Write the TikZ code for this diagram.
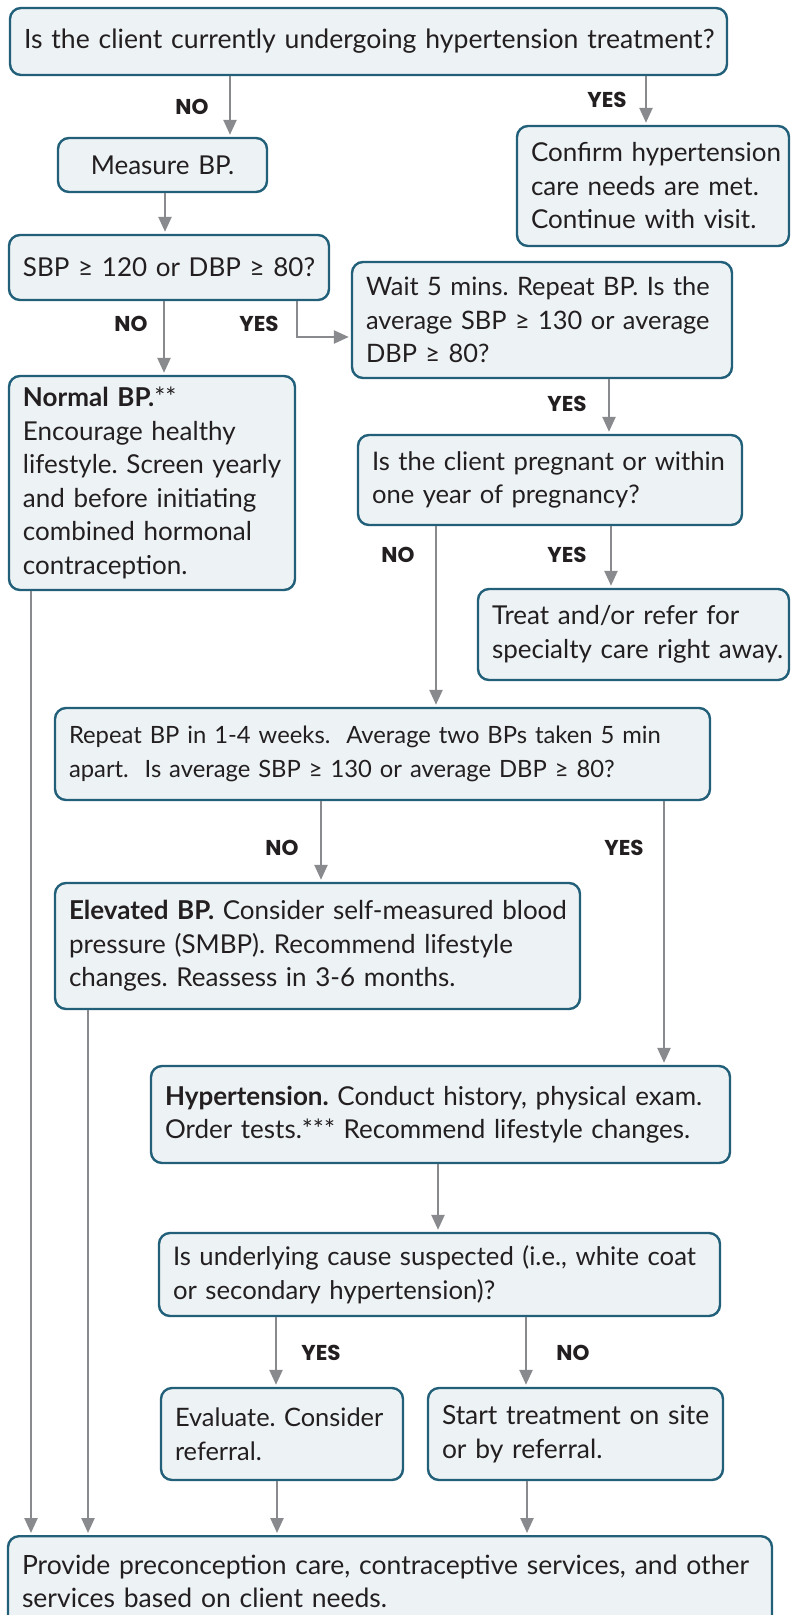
\documentclass[tikz,border=0pt]{standalone}
\usepackage{fontspec}
\setmainfont{Lato}
\newfontfamily\lblfont{Poppins}
\usetikzlibrary{arrows.meta}
\frenchspacing
\definecolor{bordercol}{HTML}{22607A}
\definecolor{fillcol}{HTML}{EDF2F5}
\definecolor{arrcol}{HTML}{898A8D}
\definecolor{txtcol}{HTML}{231F20}
\newcommand\lnb[1]{\mbox{#1}}
\tikzset{
  box/.style={draw=bordercol, fill=fillcol, line width=2.4pt, rounded corners=11pt,
    inner xsep=14pt, inner ysep=0pt, align=left, text=txtcol,
    font=\fontsize{26}{33.5}\selectfont},
  fs/.style={font=\fontsize{#1}{33.5}\selectfont},
  arr/.style={draw=arrcol, line width=2.4pt, shorten >=2pt,
    -{Triangle[width=13pt,length=15pt]}},
  lbl/.style={text=txtcol, font=\lblfont\bfseries\fontsize{21.5}{23}\selectfont, inner sep=0pt}
}
\begin{document}
\begin{tikzpicture}[x=1pt,y=-1pt]
\useasboundingbox (0,0) rectangle (791,1615);
% boxes
\node[box, fs=26.6, text width=689pt, minimum height=67pt, align=center] (top) at (368.5,41.5)
  {\lnb{Is the client currently undergoing hypertension treatment?}};
\node[box, text width=181pt, minimum height=54pt, align=center] (measure) at (162.5,165)
  {Measure BP.};
\node[box, text width=244pt, minimum height=120pt] (confirm) at (653,186)
  {\lnb{Confirm hypertension}\\\lnb{care needs are met.}\\\lnb{Continue with visit.}};
\node[box, text width=292pt, minimum height=65pt] (sbp) at (169,267.5)
  {\lnb{SBP ≥ 120 or DBP ≥ 80?}};
\node[box, fs=25.4, text width=352pt, minimum height=116pt] (wait) at (542,320)
  {\lnb{Wait 5 mins. Repeat BP. Is the}\\\lnb{average SBP ≥ 130 or average}\\\lnb{DBP ≥ 80?}};
\node[box, text width=258pt, minimum height=214pt] (normal) at (152,483)
  {\lnb{\textbf{Normal BP.}**}\\\lnb{Encourage healthy}\\\lnb{lifestyle. Screen yearly}\\\lnb{and before initiating}\\\lnb{combined hormonal}\\\lnb{contraception.}};
\node[box, fs=25.6, text width=356pt, minimum height=90pt] (preg) at (550,480)
  {\lnb{Is the client pregnant or within}\\\lnb{one year of pregnancy?}};
\node[box, text width=283pt, minimum height=91pt] (treat) at (633.5,634.5)
  {\lnb{Treat and/or refer for}\\\lnb{specialty care right away.}};
\node[box, fs=23.8, text width=627pt, minimum height=92pt] (repeat) at (382.5,754)
  {\lnb{Repeat BP in 1-4 weeks.\ \ Average two BPs taken 5 min}\\\lnb{apart.\ \ Is average SBP ≥ 130 or average DBP ≥ 80?}};
\node[box, text width=497pt, minimum height=126pt] (elev) at (317.5,946)
  {\lnb{\textbf{Elevated BP.} Consider self-measured blood}\\\lnb{pressure (SMBP). Recommend lifestyle}\\\lnb{changes. Reassess in 3-6 months.}};
\node[box, text width=551pt, minimum height=97pt] (hyper) at (440.5,1114.5)
  {\lnb{\textbf{Hypertension.} Conduct history, physical exam.}\\\lnb{Order tests.*** Recommend lifestyle changes.}};
\node[box, fs=25.7, text width=533pt, minimum height=83pt] (cause) at (439.5,1274.5)
  {\lnb{Is underlying cause suspected (i.e., white coat}\\\lnb{or secondary hypertension)?}};
\node[box, fs=25.4, text width=214pt, minimum height=92pt] (eval) at (282,1434)
  {\lnb{Evaluate. Consider}\\\lnb{referral.}};
\node[box, fs=26.4, text width=267pt, minimum height=92pt] (start) at (575.5,1434)
  {\lnb{Start treatment on site}\\\lnb{or by referral.}};
\node[box, fs=26.5, text width=736pt, minimum height=90pt, anchor=north] (final) at (390,1535)
  {\lnb{Provide preconception care, contraceptive services, and other}\\\lnb{services based on client needs.}};
% connectors
\draw[arr] ([xshift=-138.5pt]top.south) -- ([xshift=67.5pt]measure.north);
\draw[arr] ([xshift=277.5pt]top.south) -- ([xshift=-7pt]confirm.north);
\draw[arr] ([xshift=2.5pt]measure.south) -- ([xshift=-4pt]sbp.north);
\draw[arr] ([xshift=-5pt]sbp.south) -- ([xshift=12pt]normal.north);
\draw[arr] ([xshift=128pt]sbp.south) |- ([yshift=-17pt]wait.west);
\draw[arr] ([xshift=67pt]wait.south) -- ([xshift=59pt]preg.north);
\draw[arr] ([xshift=-114pt]preg.south) -- ([xshift=53.5pt]repeat.north);
\draw[arr] ([xshift=61pt]preg.south) -- ([xshift=-22.5pt]treat.north);
\draw[arr] ([xshift=-61.5pt]repeat.south) -- ([xshift=3.5pt]elev.north);
\draw[arr] ([xshift=281.5pt]repeat.south) -- ([xshift=223.5pt]hyper.north);
\draw[arr] ([xshift=-2.5pt]hyper.south) -- ([xshift=-1.5pt]cause.north);
\draw[arr] ([xshift=-163.5pt]cause.south) -- ([xshift=-6pt]eval.north);
\draw[arr] ([xshift=86.5pt]cause.south) -- ([xshift=-49.5pt]start.north);
\draw[arr] ([xshift=-5pt]eval.south) -- ([xshift=-113pt]final.north);
\draw[arr] ([xshift=-48.5pt]start.south) -- ([xshift=137pt]final.north);
\draw[arr] ([xshift=-121pt]normal.south) -- ([xshift=-359pt]final.north);
\draw[arr] ([xshift=-229.5pt]elev.south) -- ([xshift=-302pt]final.north);
% labels
\node[lbl] (l1) at (192,107) {NO};
\node[lbl] (l2) at (607,100) {YES};
\node[lbl] (l3) at (131,324) {NO};
\node[lbl] (l4) at (259,324) {YES};
\node[lbl] (l5) at (567,404) {YES};
\node[lbl] (l6) at (398,555) {NO};
\node[lbl] (l7) at (567,555) {YES};
\node[lbl] (l8) at (282,848) {NO};
\node[lbl] (l9) at (624,848) {YES};
\node[lbl] (l10) at (321,1353) {YES};
\node[lbl] (l11) at (573,1353) {NO};
\end{tikzpicture}
\end{document}
